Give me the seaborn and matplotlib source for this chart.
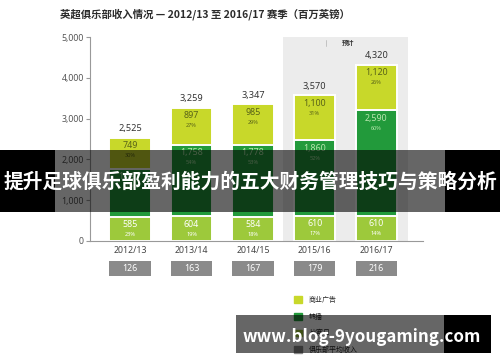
import numpy as np
import pandas as pd
import seaborn as sns
import matplotlib.pyplot as plt
from matplotlib.patches import Patch, Rectangle

# data (million GBP)
seasons = ["2012/13", "2013/14", "2014/15", "2015/16", "2016/17"]
matchday = [585, 604, 584, 610, 610]
broadcast = [1191, 1758, 1778, 1860, 2590]
commercial = [749, 897, 985, 1100, 1120]
totals = [2525, 3259, 3347, 3570, 4320]
matchday_pct = ["23%", "19%", "18%", "17%", "14%"]
broadcast_pct = ["47%", "54%", "53%", "52%", "60%"]
commercial_pct = ["30%", "27%", "29%", "31%", "26%"]
club_avg = [126, 163, 167, 179, 216]

sns.set_theme(style="white")
plt.rcParams["font.family"] = ["Noto Sans", "Noto Sans CJK SC", "DejaVu Sans"]

c_comm = "#c8d82a"
c_broad = "#229a3b"
c_match = "#9dc93b"
c_box = "#8a8a8a"

df = pd.DataFrame({"season": seasons, "match": matchday, "broad": broadcast,
                   "comm": commercial, "total": totals})
df["mb"] = df["match"] + df["broad"]

W, H = 500, 362
fig = plt.figure(figsize=(5, 3.62), dpi=100)
ax = fig.add_axes([90 / W, (H - 241) / H, 333 / W, 204 / H])

# forecast shading
ax.axvspan(2.49, 4.52, color="#ececec", zorder=0, lw=0)

kw = dict(width=0.67, edgecolor="white", linewidth=1.4, ax=ax, zorder=2)
sns.barplot(data=df, x="season", y="total", color=c_comm, saturation=1, **kw)
sns.barplot(data=df, x="season", y="mb", color=c_broad, saturation=1, **kw)
sns.barplot(data=df, x="season", y="match", color=c_match, saturation=1, **kw)

ax.set_xlim(-0.65, 4.76)
ax.set_ylim(0, 5000)
ax.set_yticks([0, 1000, 2000, 3000, 4000, 5000])
ax.set_yticklabels(["0", "1,000", "2,000", "3,000", "4,000", "5,000"])
ax.set_xlabel("")
ax.set_ylabel("")
ax.tick_params(axis="y", length=3, width=0.8, color="#999999", pad=1.5,
               labelsize=6.3, labelcolor="#555555", left=True)
ax.tick_params(axis="x", length=0, pad=3.5, labelsize=6.3, labelcolor="#444444")
for s in ["top", "right"]:
    ax.spines[s].set_visible(False)
for s in ["left", "bottom"]:
    ax.spines[s].set_color("#999999")
    ax.spines[s].set_linewidth(0.8)

# segment labels
for i in range(len(seasons)):
    segs = [(df["match"][i], matchday[i], matchday_pct[i], "white"),
            (df["mb"][i], broadcast[i], broadcast_pct[i], "#b8e6ae"),
            (df["total"][i], commercial[i], commercial_pct[i], "#5a6418")]
    for top, val, pct, col in segs:
        ax.annotate(f"{val:,}", (i, top), xytext=(0, -5.6), textcoords="offset points",
                    ha="center", va="center", fontsize=6.4, color=col, zorder=3)
        ax.annotate(pct, (i, top), xytext=(0, -12.8), textcoords="offset points",
                    ha="center", va="center", fontsize=4, color=col, zorder=3)
    ax.annotate(f"{totals[i]:,}", (i, totals[i]), xytext=(0, 6.6), textcoords="offset points",
                ha="center", va="center", fontsize=6.6, color="#333333", zorder=3)

ax.text(3.55, 4840, "预计", ha="center", va="center", fontsize=4.5,
        fontweight="bold", color="#333333")
ax.axvline(3.19, ymin=0.955, ymax=0.985, color="#bbbbbb", lw=0.6)

# club average revenue boxes
ax2 = fig.add_axes([90 / W, (H - 276) / H, 333 / W, 15 / H])
sns.barplot(x=seasons, y=[1] * len(seasons), color=c_box, saturation=1,
            width=0.67, linewidth=0, ax=ax2)
ax2.set_xlim(-0.65, 4.76)
ax2.set_ylim(0, 1)
ax2.axis("off")
for i, v in enumerate(club_avg):
    ax2.text(i, 0.5, str(v), ha="center", va="center", fontsize=6.4, color="white")

# title
fig.text(60 / W, (H - 14) / H, "英超俱乐部收入情况 — 2012/13 至 2016/17 赛季（百万英镑）",
         ha="left", va="center", fontsize=7.5, fontweight="bold", color="#2b2b2b",
         family=["Noto Sans CJK SC", "DejaVu Sans"])

# legend
handles = [Patch(color=c_comm), Patch(color=c_broad), Patch(color=c_match), Patch(color=c_box)]
labels = ["商业广告", "转播", "比赛日", "俱乐部平均收入"]
fig.legend(handles, labels, loc="upper left", bbox_to_anchor=(294 / W, (H - 296) / H),
           frameon=False, handlelength=1.15, handleheight=1.15,
           handletextpad=1.0, labelspacing=1.25, borderpad=0, borderaxespad=0,
           prop={"family": ["Noto Sans CJK SC"], "size": 5})

# overlay banners
def rect(x0, x1, y0, y1, alpha):
    fig.patches.append(Rectangle((x0 / W, (H - y1) / H), (x1 - x0) / W, (y1 - y0) / H,
                                 transform=fig.transFigure, color="black", alpha=alpha,
                                 zorder=10, lw=0))

rect(0, 55, 150, 212, 1)
rect(445, 500, 150, 212, 1)
rect(55, 445, 150, 212, 0.6)
fig.text(0.5, (H - 182) / H, "提升足球俱乐部盈利能力的五大财务管理技巧与策略分析",
         ha="center", va="center", fontsize=14.2, fontweight="bold", color="white",
         family=["Noto Sans CJK SC"], zorder=11)

rect(236, 444, 315, 353, 0.6)
rect(444, 491, 315, 353, 1)
fig.text(362 / W, (H - 337) / H, "www.blog-9yougaming.com", ha="center", va="center",
         fontsize=12.2, fontweight="bold", color="white",
         family=["Noto Sans CJK SC"], zorder=11)

fig.savefig("out.png", dpi=100)
